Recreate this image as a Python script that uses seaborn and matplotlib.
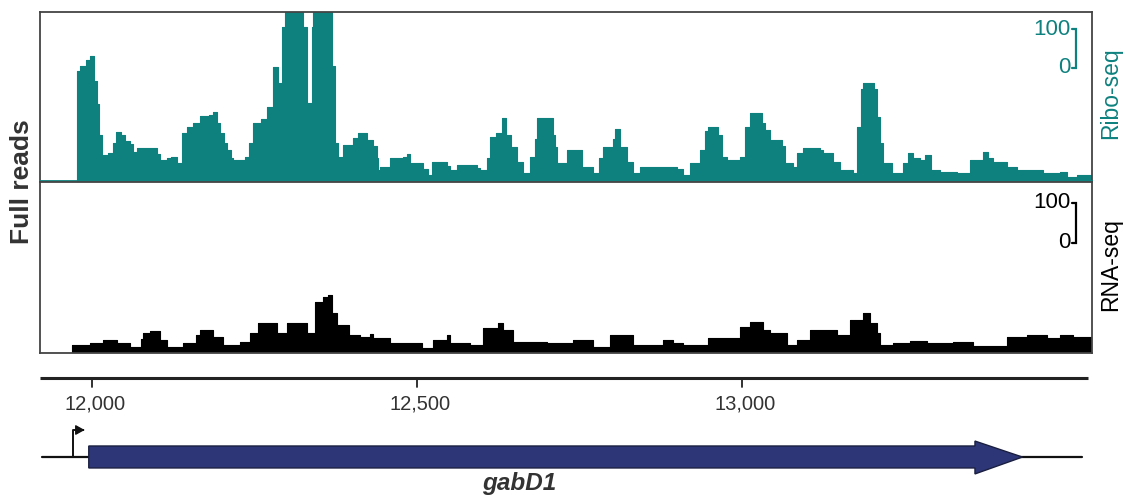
import matplotlib
matplotlib.use("Agg")
import matplotlib.pyplot as plt
from matplotlib.patches import Polygon
import seaborn as sns
import numpy as np

# ---------------- data ----------------
ribo_pos = [11920, 11977, 11982, 11990, 11997, 12003, 12007, 12011, 12015, 12025,
            12033, 12037, 12045, 12050, 12058, 12063, 12069, 12100, 12105, 12115,
            12122, 12131, 12138, 12146, 12156, 12166, 12180, 12186, 12192, 12197,
            12203, 12208, 12213, 12217, 12235, 12242, 12248, 12260, 12269, 12278,
            12286, 12292, 12297, 12325, 12331, 12338, 12340, 12369, 12373, 12378,
            12386, 12401, 12409, 12423, 12432, 12438, 12440, 12443, 12458, 12478,
            12484, 12489, 12509, 12517, 12523, 12546, 12551, 12561, 12592, 12597,
            12608, 12612, 12622, 12630, 12637, 12645, 12654, 12663, 12674, 12681,
            12684, 12709, 12712, 12715, 12731, 12754, 12771, 12780, 12786, 12801,
            12805, 12812, 12823, 12832, 12843, 12900, 12909, 12920, 12935, 12943,
            12948, 12963, 12969, 12977, 12997, 13004, 13012, 13030, 13035, 13043,
            13061, 13066, 13078, 13084, 13094, 13120, 13124, 13140, 13150, 13170,
            13176, 13182, 13186, 13203, 13207, 13212, 13217, 13230, 13247, 13255,
            13263, 13273, 13281, 13290, 13304, 13330, 13350, 13370, 13378, 13386,
            13407, 13423, 13463, 13489, 13500, 13515, 13538]
ribo_reads = [0, 285, 300, 315, 325, 260, 200, 120, 68, 72,
              100, 127, 120, 105, 95, 75, 86, 70, 55, 60,
              62, 47, 125, 140, 150, 170, 172, 179, 150, 125,
              100, 81, 60, 55, 62, 100, 151, 160, 192, 296,
              255, 400, 600, 400, 203, 400, 600, 300, 99, 62,
              94, 112, 125, 107, 90, 60, 29, 36, 60, 62,
              70, 47, 30, 16, 49, 40, 29, 42, 35, 29,
              60, 114, 125, 164, 120, 88, 50, 21, 62, 110,
              164, 120, 88, 47, 81, 36, 21, 60, 88, 110,
              135, 88, 50, 21, 36, 30, 16, 47, 80, 130,
              140, 120, 62, 55, 62, 140, 177, 150, 133, 107,
              90, 47, 36, 73, 86, 80, 73, 50, 29, 21,
              140, 240, 255, 240, 166, 100, 47, 21, 47, 73,
              60, 55, 68, 29, 23, 21, 55, 75, 60, 49,
              36, 29, 21, 23, 10, 16, 16]

rna_pos = [11920, 11969, 11997, 12017, 12038, 12058, 12075, 12078, 12089, 12105,
           12115, 12140, 12160, 12166, 12186, 12201, 12228, 12243, 12255, 12285,
           12300, 12331, 12343, 12355, 12363, 12369, 12377, 12395, 12412, 12428,
           12432, 12458, 12508, 12524, 12546, 12551, 12581, 12601, 12624, 12632,
           12648, 12700, 12740, 12771, 12797, 12832, 12878, 12894, 12909, 12947,
           12997, 13012, 13032, 13043, 13069, 13084, 13104, 13146, 13166, 13186,
           13197, 13207, 13212, 13232, 13258, 13284, 13324, 13355, 13407, 13438,
           13469, 13489, 13509, 13538]
rna_reads = [0, 20, 25, 33, 25, 15, 35, 50, 55, 33,
             15, 25, 45, 58, 40, 20, 28, 50, 75, 50,
             75, 50, 128, 140, 145, 100, 70, 45, 40, 48,
             38, 25, 13, 33, 45, 25, 20, 63, 75, 58,
             28, 25, 33, 15, 45, 20, 33, 25, 20, 38,
             65, 78, 58, 50, 20, 33, 58, 45, 83, 100,
             75, 50, 20, 25, 30, 25, 28, 18, 40, 45,
             38, 45, 40, 40]

ticks = [12000, 12500, 13000]
gene_name = "gabD1"
gene_start = 11995
gene_end = 13431
gene_head = 13358
promoter = 11971
backbone = [11923, 13523]
axis_span = [11920, 13532]
xlim = (11920, 13538)
ribo_ylim = 439
rna_ylim = 427
scale_len = 100
ribo_scale_base = 294
rna_scale_base = 275

teal = "#0e817e"
navy = "#2d3778"
dark = "#333333"

# ---------------- figure ----------------
sns.set_theme(style="white")
plt.rcParams["font.family"] = ["Liberation Sans", "DejaVu Sans"]

W, H = 1127, 495
fig = plt.figure(figsize=(W / 100, H / 100), dpi=100)
L = 40 / W
Wd = 1052 / W
ax1 = fig.add_axes([L, 1 - 181 / H, Wd, 169 / H])
ax2 = fig.add_axes([L, 1 - 353 / H, Wd, 171 / H])
ax3 = fig.add_axes([L, 0, Wd, 130 / H])

for ax, pos, vals, col, top, base in [(ax1, ribo_pos, ribo_reads, teal, ribo_ylim, ribo_scale_base),
                                      (ax2, rna_pos, rna_reads, "black", rna_ylim, rna_scale_base)]:
    ax.fill_between(pos, vals, step="post", color=col, linewidth=0)
    sns.lineplot(x=pos, y=vals, ax=ax, drawstyle="steps-post", color=col,
                 linewidth=0.8, estimator=None, sort=False)
    ax.set_xlim(*xlim)
    ax.set_ylim(0, top)
    ax.set_xticks([])
    ax.set_yticks([])
    for s in ax.spines.values():
        s.set_color("#444444")
        s.set_linewidth(1.3)
    # scale bracket
    bx = 13513
    tl = 6
    ax.plot([bx - tl, bx, bx, bx - tl], [base + scale_len, base + scale_len, base, base],
            color=col, lw=1.6, solid_joinstyle="miter", clip_on=False)
    ax.text(bx - 8, base + scale_len, "100", ha="right", va="center", color=col, fontsize=16)
    ax.text(bx - 8, base, "0", ha="right", va="center", color=col, fontsize=16)

ax1.spines["bottom"].set_color(teal)

fig.text(1111 / W, 1 - 93 / H, "Ribo-seq", rotation=90, ha="center", va="center",
         color=teal, fontsize=16.5)
fig.text(1111 / W, 1 - 265 / H, "RNA-seq", rotation=90, ha="center", va="center",
         color="black", fontsize=16.5)
fig.text(22 / W, 1 - 182 / H, "Full reads", rotation=90, ha="center", va="center",
         color=dark, fontsize=19, fontweight="bold")

# ---------------- gene / coordinate track ----------------
ax3.set_xlim(*xlim)
ax3.set_ylim(0, 1)
ax3.axis("off")
ax3.plot(axis_span, [0.9, 0.9], color="#222222", lw=2.2, solid_capstyle="butt")
for t in ticks:
    ax3.plot([t, t], [0.9, 0.83], color="#222222", lw=1.3)
    ax3.text(t + 4, 0.70, f"{t:,}", ha="center", va="center", fontsize=14.5,
             color=dark)

ax3.plot(backbone, [0.292, 0.292], color="#111111", lw=1.6, zorder=1)
arrow = Polygon([(gene_start, 0.208), (gene_head, 0.208), (gene_head, 0.162),
                 (gene_end, 0.292), (gene_head, 0.415), (gene_head, 0.377),
                 (gene_start, 0.377)], closed=True, facecolor=navy,
                edgecolor="#1a1f40", lw=1.0, zorder=2)
ax3.add_patch(arrow)
ax3.plot([promoter, promoter, promoter + 12], [0.292, 0.5, 0.5], color="#111111", lw=1.4)
ax3.annotate("", xy=(promoter + 22, 0.5), xytext=(promoter + 11, 0.5),
             arrowprops=dict(arrowstyle="-|>,head_length=0.45,head_width=0.25",
                             color="#111111", lw=1.0))
ax3.text((gene_start + gene_end) / 2 - 56, 0.085, gene_name, ha="center", va="center",
         fontsize=17.5, fontweight="bold", fontstyle="italic", color=dark)

fig.savefig("out.png", dpi=100)
